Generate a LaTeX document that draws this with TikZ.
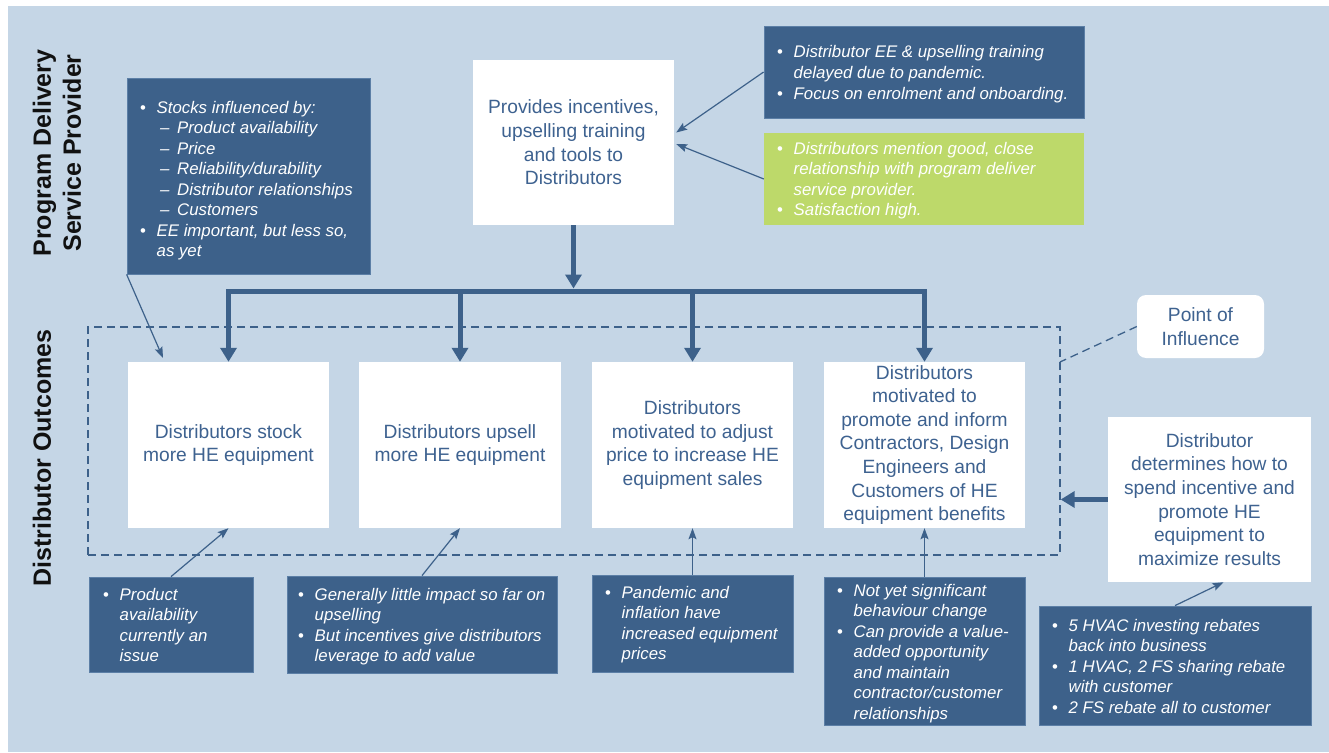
\documentclass[tikz,border=0pt]{standalone}
\usepackage{fontspec}
\setmainfont{Liberation Sans}
\usetikzlibrary{arrows.meta}
\definecolor{bgblue}{HTML}{C5D6E6}
\definecolor{dkblue}{HTML}{3D618A}
\definecolor{dkedge}{HTML}{5C7FA6}
\definecolor{txtblue}{HTML}{3E6290}
\definecolor{grn}{HTML}{BDD96A}
\definecolor{lbl}{HTML}{111111}
\newcommand\bl[1]{\makebox[16.5pt][l]{\upshape •}#1}
\newcommand\cl[1]{\hspace*{16.5pt}#1}
\newcommand\subl[1]{\hspace*{20pt}\makebox[17pt][l]{–}#1}
\newcommand\notetext[1]{\begin{tabular}[t]{@{}l@{}}#1\end{tabular}}
\tikzset{
  whitebox/.style={fill=white, text=txtblue, align=center, inner sep=0pt,
    font=\fontsize{19.2}{23.6}\selectfont},
  darkbox/.style={fill=dkblue, draw=dkedge, line width=0.8pt, inner sep=0pt},
  greenbox/.style={fill=grn, inner sep=0pt},
  note/.style={anchor=base west, inner sep=0pt, text=white,
    font=\fontsize{16.8}{20.5}\selectfont\itshape},
  sidelabel/.style={rotate=90, align=center, text=lbl, inner sep=0pt,
    font=\bfseries\fontsize{25}{30}\selectfont},
  thk/.style={draw=dkblue, line width=5pt},
  thktip/.style={-{Triangle[width=16pt,length=14pt]}},
  thktips/.style={{Triangle[width=16pt,length=14pt]}-{Triangle[width=16pt,length=14pt]}},
  thn/.style={draw=dkblue, line width=1.2pt, -{Stealth[width=8pt,length=11pt,inset=2pt]}},
  dashline/.style={draw=dkblue, line width=1.3pt, dash pattern=on 8pt off 5pt},
}
\begin{document}
\begin{tikzpicture}[x=1pt,y=-1pt]
\useasboundingbox (0,0) rectangle (1329,752);
\fill[white] (0,0) rectangle (1329,752);
\fill[bgblue] (8,6) rectangle (1329,752);

% side labels
\node[sidelabel] (pdsp) at (57,153) {Program Delivery\\Service Provider};
\node[sidelabel] (dout) at (42,458) {Distributor Outcomes};

% dashed point-of-influence frame
\node[dashline, minimum width=972pt, minimum height=228pt, inner sep=0pt] (frame) at (574,441) {};

% dark / green boxes
\node[darkbox, minimum width=243pt, minimum height=196pt] (stk) at (248.5,176) {};
\node[darkbox, minimum width=320pt, minimum height=92pt] (tr) at (924,72) {};
\node[greenbox, minimum width=320pt, minimum height=92pt] (gr) at (924,179) {};
\node[darkbox, minimum width=164pt, minimum height=95pt] (prod) at (171,624.5) {};
\node[darkbox, minimum width=270pt, minimum height=97pt] (gen) at (422,624.5) {};
\node[darkbox, minimum width=201pt, minimum height=97pt] (pan) at (692.5,623.5) {};
\node[darkbox, minimum width=201pt, minimum height=148pt] (ny) at (924.5,651) {};
\node[darkbox, minimum width=272pt, minimum height=119pt] (hvac) at (1175,665.5) {};

% note texts
\node[note] (stkt) at (140,113) {\notetext{\bl{Stocks influenced by:}\\
  \subl{Product availability}\\ \subl{Price}\\ \subl{Reliability/durability}\\
  \subl{Distributor relationships}\\ \subl{Customers}\\
  \bl{EE important, but less so,}\\ \cl{as yet}}};
\node[note] (trt) at (777,58) {\notetext{\bl{Distributor EE \& upselling training}\\
  \cl{delayed due to pandemic.}\\ \bl{Focus on enrolment and onboarding.}}};
\node[note] (grt) at (777,154) {\notetext{\bl{Distributors mention good, close}\\
  \cl{relationship with program deliver}\\ \cl{service provider.}\\
  \bl{Satisfaction high.}}};
\node[note] (prodt) at (103,600) {\notetext{\bl{Product}\\ \cl{availability}\\
  \cl{currently an}\\ \cl{issue}}};
\node[note] (gent) at (298,600) {\notetext{\bl{Generally little impact so far on}\\
  \cl{upselling}\\ \bl{But incentives give distributors}\\ \cl{leverage to add value}}};
\node[note] (pant) at (605,598) {\notetext{\bl{Pandemic and}\\ \cl{inflation have}\\
  \cl{increased equipment}\\ \cl{prices}}};
\node[note] (nyt) at (837,596) {\notetext{\bl{Not yet significant}\\ \cl{behaviour change}\\
  \bl{Can provide a value-}\\ \cl{added opportunity}\\ \cl{and maintain}\\
  \cl{contractor/customer}\\ \cl{relationships}}};
\node[note] (hvact) at (1052,631) {\notetext{\bl{5 HVAC investing rebates}\\
  \cl{back into business}\\ \bl{1 HVAC, 2 FS sharing rebate}\\
  \cl{with customer}\\ \bl{2 FS rebate all to customer}}};

% white boxes
\node[whitebox, minimum width=201pt, minimum height=165pt] (prov) at (573.5,142.5)
  {Provides incentives,\\upselling training\\and tools to\\Distributors};
\node[whitebox, minimum width=201pt, minimum height=166pt] (b1) at (228.5,445)
  {Distributors stock\\more HE equipment};
\node[whitebox, minimum width=202pt, minimum height=166pt] (b2) at (460,445)
  {Distributors upsell\\more HE equipment};
\node[whitebox, minimum width=201pt, minimum height=166pt] (b3) at (692.5,445)
  {Distributors\\motivated to adjust\\price to increase HE\\equipment sales};
\node[whitebox, minimum width=201pt, minimum height=166pt] (b4) at (924.5,445)
  {Distributors\\motivated to\\promote and inform\\Contractors, Design\\Engineers and\\Customers of HE\\equipment benefits};
\node[whitebox, minimum width=203pt, minimum height=165pt] (det) at (1209.5,499.5)
  {Distributor\\determines how to\\spend incentive and\\promote HE\\equipment to\\maximize results};
\node[whitebox, rounded corners=9pt, minimum width=127pt, minimum height=63pt] (poi) at (1200.5,326.5)
  {Point of\\Influence};

% coordinates
\coordinate (bar) at (0,291);
\coordinate (barmid) at (573.5,288.5);
\coordinate (stktip) at (163,358);
\coordinate (poiend) at (1060,362);

% thick connectors
\draw[thk,thktip] (prov.south) -- (barmid);
\draw[thk,thktips,line join=miter] (b1.north) -- (b1.north |- bar) -- (b4.north |- bar) -- (b4.north);
\draw[thk,thktip] (b2.north |- bar) -- (b2.north);
\draw[thk,thktip] (b3.north |- bar) -- (b3.north);
\draw[thk,thktip] (det.west) -- (det.west -| frame.east);

% thin connectors
\draw[thn] (tr.west) -- ([xshift=2pt,yshift=10pt]prov.east);
\draw[thn] (gr.west) -- ([xshift=2pt,yshift=-1.5pt]prov.east);
\draw[thn] (stk.south west) -- (stktip);
\draw[thn] (prod.north) -- (b1.south);
\draw[thn] (gen.north) -- (b2.south);
\draw[thn] (pan.north) -- (b3.south);
\draw[thn] (ny.north) -- (b4.south);
\draw[thn] (hvac.north) -- ([xshift=14pt]det.south);
\draw[dashline] (poi.west) -- (poiend);
\end{tikzpicture}
\end{document}
